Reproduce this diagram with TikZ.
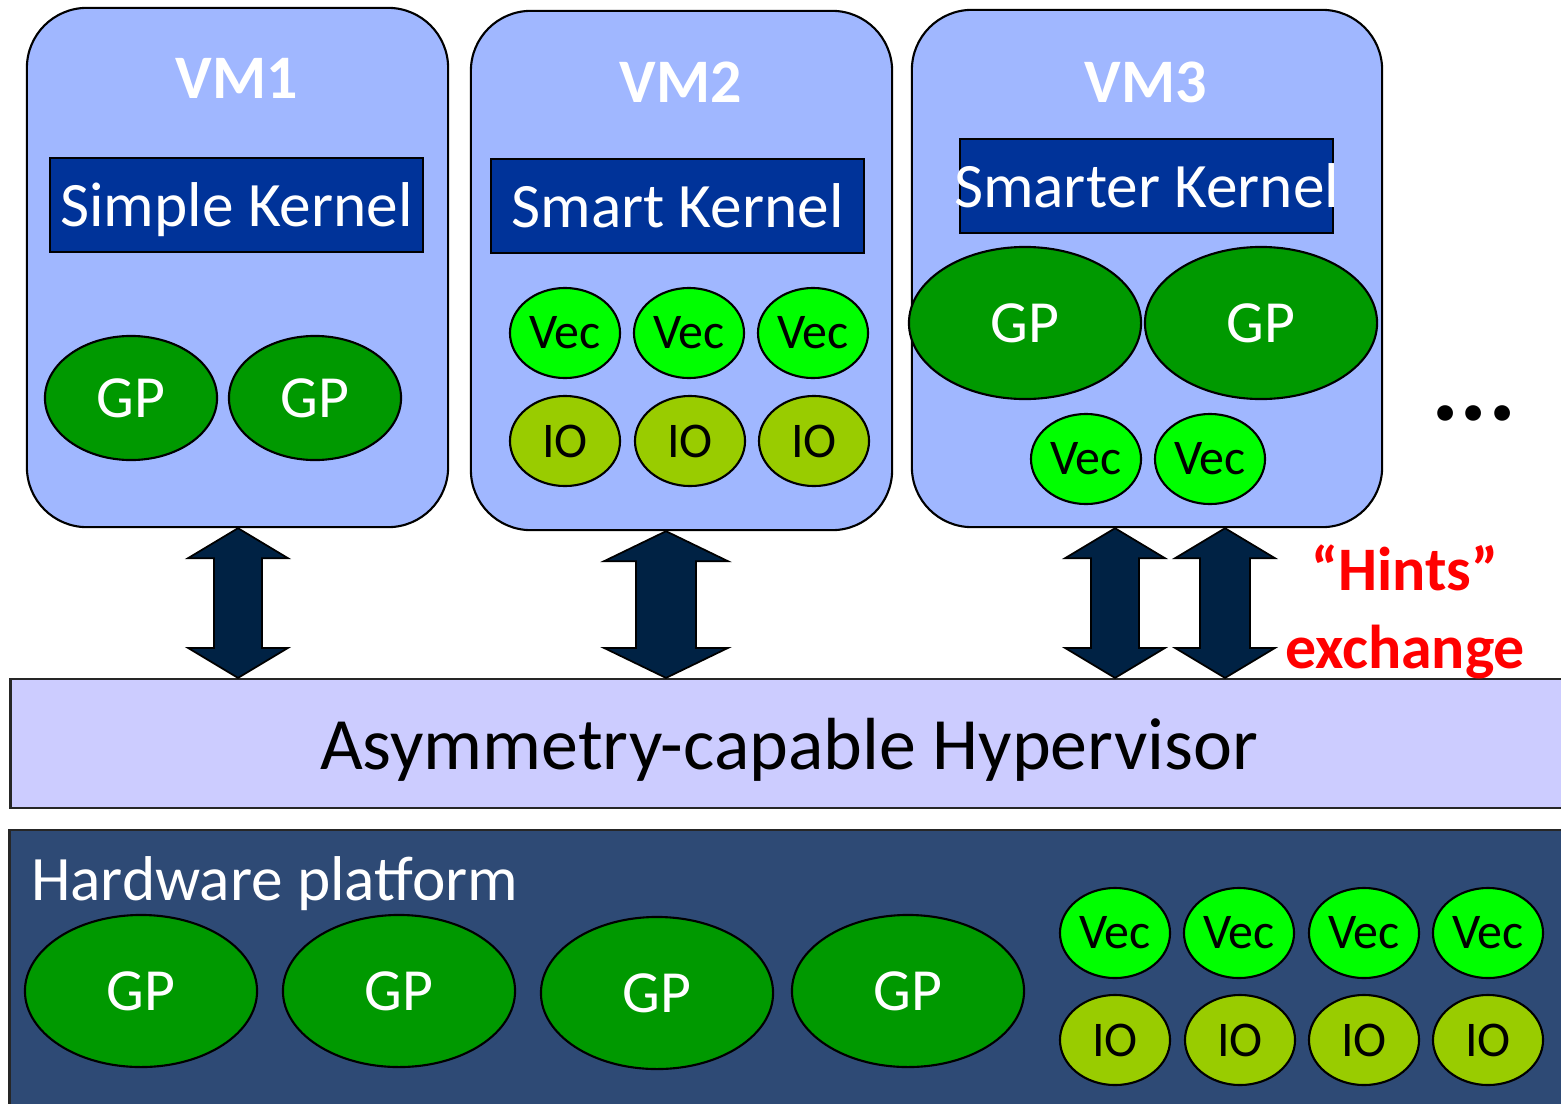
\documentclass[tikz,border=0pt]{standalone}
\usepackage{fontspec}
\setmainfont{Carlito}
\usetikzlibrary{calc,positioning,shapes.geometric}
\definecolor{vmblue}{RGB}{160,183,255}
\definecolor{kernblue}{RGB}{0,51,153}
\definecolor{gpgreen}{RGB}{0,153,0}
\definecolor{vecgreen}{RGB}{0,255,0}
\definecolor{iogreen}{RGB}{153,204,0}
\definecolor{arrowblue}{RGB}{0,34,68}
\definecolor{hypblue}{RGB}{204,204,255}
\definecolor{hwblue}{RGB}{46,74,117}
\newcommand{\dblarrow}[4]{% top, bottom, head half width, shaft half width
\draw[harrow](#1)--($(#1)+(#3,30)$)--($(#1)+(#4,30)$)--($(#2)+(#4,-30)$)--($(#2)+(#3,-30)$)--(#2)
  --($(#2)+(-#3,-30)$)--($(#2)+(-#4,-30)$)--($(#1)+(-#4,30)$)--($(#1)+(-#3,30)$)--cycle;}

\begin{document}
\begin{tikzpicture}[x=0.01cm,y=-0.01cm,line width=0.6pt,
  vm/.style={draw,fill=vmblue,rounded corners=0.6cm,minimum height=5.19cm},
  vmname/.style={text=white,font=\fontsize{17.6}{20}\selectfont\bfseries},
  kbox/.style={draw,fill=kernblue,minimum width=3.73cm,minimum height=0.94cm},
  ktext/.style={anchor=base,text=white,font=\fontsize{18}{20}\selectfont},
  ell/.style={ellipse,draw,inner sep=0pt},
  gpS/.style={ell,fill=gpgreen,text=white,minimum width=1.72cm,minimum height=1.24cm,font=\fontsize{17}{20}\selectfont},
  gpL/.style={gpS,minimum width=2.32cm,minimum height=1.52cm},
  vec/.style={ell,fill=vecgreen,minimum width=1.10cm,minimum height=0.90cm,font=\fontsize{14.2}{16}\selectfont},
  io/.style={vec,fill=iogreen},
  harrow/.style={draw=black,fill=arrowblue,line width=0.5pt}]
\useasboundingbox(0,0)rectangle(1561,1103);
% virtual machines
\node[vm,minimum width=4.21cm](vm1)at(237.5,267.5){};
\node[vm,minimum width=4.21cm](vm2)at(681.5,270.5){};
\node[vm,minimum width=4.70cm,minimum height=5.17cm](vm3)at(1147,268.5){};
\node[vmname](n1)at(237,78){VM1};
\node[vmname](n2)at(681,82){VM2};
\node[vmname](n3)at(1146,82){VM3};
\node[kbox](k1)at(236.5,205){};\node[ktext](t1)at(236.5,226){Simple Kernel};
\node[kbox](k2)at(677.5,206){};\node[ktext](t2)at(677.5,227){Smart Kernel};
\node[kbox](k3)at(1146.5,186){};\node[ktext](t3)at(1146.5,207){Smarter Kernel};
% cores given to each VM
\node[gpS](g11)at(131,398){GP};\node[gpS](g12)at(315,398){GP};
\node[vec](v21)at(565,333){Vec};\node[vec](v22)at(689,333){Vec};\node[vec](v23)at(813,333){Vec};
\node[io](i21)at(565,441){IO};\node[io](i22)at(690,441){IO};\node[io](i23)at(814,441){IO};
\node[gpL](g31)at(1025,323){GP};\node[gpL](g32)at(1261,323){GP};
\node[vec](v31)at(1086,459){Vec};\node[vec](v32)at(1210,459){Vec};
\node[anchor=base,font=\fontsize{30}{30}\selectfont\bfseries](dots)at(1474,420){...};
% hypervisor and hardware
\node[draw=black!85,fill=hypblue,minimum width=15.59cm,minimum height=1.29cm](hyp)at(790.5,743.5){};
\node[anchor=base,font=\fontsize{21}{24}\selectfont](hyptext)at(789,769){Asymmetry-capable Hypervisor};
\node[draw=black!85,fill=hwblue,minimum width=15.60cm,minimum height=2.79cm](hw)at(790,970){};
\node[anchor=base west,text=white,font=\fontsize{18}{20}\selectfont,inner sep=0pt](hwname)at(30,900){Hardware platform};
\node[gpL](h1)at(141,991){GP};\node[gpL](h2)at(399,991){GP};
\node[gpL](h3)at(657,993){GP};\node[gpL](h4)at(908,991){GP};
\node[vec](hv1)at(1115,933){Vec};\node[vec](hv2)at(1239,933){Vec};
\node[vec](hv3)at(1364,933){Vec};\node[vec](hv4)at(1488,933){Vec};
\node[io](hi1)at(1115,1040){IO};\node[io](hi2)at(1240,1040){IO};
\node[io](hi3)at(1364,1040){IO};\node[io](hi4)at(1488,1040){IO};
% hint exchange arrows
\coordinate(a1)at(238,0 |- vm1.south);\coordinate(b1)at(238,0 |- hyp.north);
\coordinate(a2)at(666,0 |- vm2.south);\coordinate(b2)at(666,0 |- hyp.north);
\coordinate(a3)at(1115,0 |- vm3.south);\coordinate(b3)at(1115,0 |- hyp.north);
\coordinate(a4)at(1225,0 |- vm3.south);\coordinate(b4)at(1225,0 |- hyp.north);
\dblarrow{a1}{b1}{50}{24}
\dblarrow{a2}{b2}{62}{30}
\dblarrow{a3}{b3}{50}{24}
\dblarrow{a4}{b4}{50}{25}
\node[text=red,align=center,font=\fontsize{17.6}{22}\selectfont\bfseries](hints)at(1405,612){“Hints”\\exchange};
\end{tikzpicture}
\end{document}
